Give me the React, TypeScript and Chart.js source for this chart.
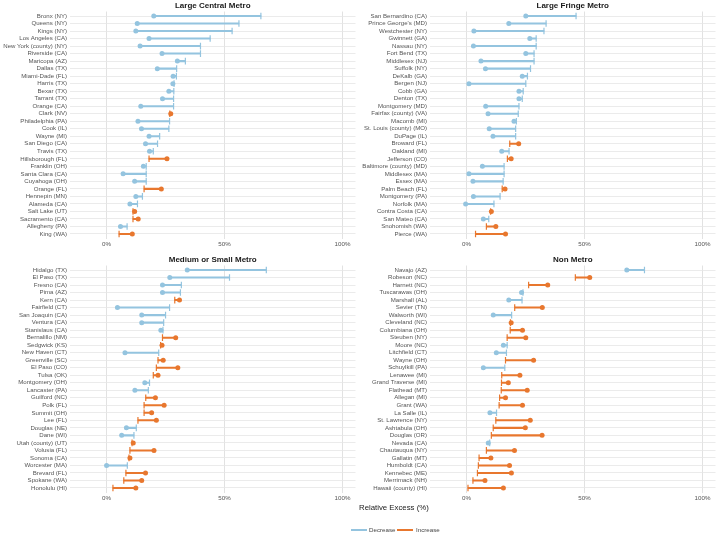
import React, { useEffect, useRef } from 'react';
import { Chart, registerables } from 'chart.js';

Chart.register(...registerables);

const FONT = '"Liberation Sans", Arial, Helvetica, sans-serif';
const BLUE = '#94c4df';
const ORANGE = '#e8772e';

const X_TICKS = [0, 50, 100];
const X_MIN = -15.5;
const X_MAX = 105.5;

const largeCentralCounties = [
  'Bronx (NY)', 'Queens (NY)', 'Kings (NY)', 'Los Angeles (CA)', 'New York (county) (NY)', 'Riverside (CA)',
  'Maricopa (AZ)', 'Dallas (TX)', 'Miami-Dade (FL)', 'Harris (TX)', 'Bexar (TX)', 'Tarrant (TX)',
  'Orange (CA)', 'Clark (NV)', 'Philadelphia (PA)', 'Cook (IL)', 'Wayne (MI)', 'San Diego (CA)',
  'Travis (TX)', 'Hillsborough (FL)', 'Franklin (OH)', 'Santa Clara (CA)', 'Cuyahoga (OH)', 'Orange (FL)',
  'Hennepin (MN)', 'Alameda (CA)', 'Salt Lake (UT)', 'Sacramento (CA)', 'Allegheny (PA)', 'King (WA)',
];
const largeCentralStart = [65.4, 56.1, 53.2, 43.9, 39.8, 39.8, 33.4, 29.7, 29.6, 28.6, 28.5, 28.4, 28.4, 26.8, 26.7, 26.4, 22.5, 21.6, 19.8, 18.0, 16.8, 16.8, 16.8, 15.9, 15.2, 13.1, 11.2, 11.2, 8.7, 5.3];
const largeCentralEnd = [20.0, 13.0, 12.4, 18.0, 14.2, 23.5, 30.0, 21.5, 28.2, 28.1, 26.4, 23.7, 14.5, 27.2, 13.3, 14.8, 18.0, 16.5, 18.2, 25.6, 15.6, 7.0, 11.9, 23.2, 12.4, 9.9, 11.9, 13.4, 5.9, 10.9];

const largeFringeCounties = [
  'San Bernardino (CA)', "Prince George's (MD)", 'Westchester (NY)', 'Gwinnett (GA)', 'Nassau (NY)', 'Fort Bend (TX)',
  'Middlesex (NJ)', 'Suffolk (NY)', 'DeKalb (GA)', 'Bergen (NJ)', 'Cobb (GA)', 'Denton (TX)',
  'Montgomery (MD)', 'Fairfax (county) (VA)', 'Macomb (MI)', 'St. Louis (county) (MO)', 'DuPage (IL)', 'Broward (FL)',
  'Oakland (MI)', 'Jefferson (CO)', 'Baltimore (county) (MD)', 'Middlesex (MA)', 'Essex (MA)', 'Palm Beach (FL)',
  'Montgomery (PA)', 'Norfolk (MA)', 'Contra Costa (CA)', 'San Mateo (CA)', 'Snohomish (WA)', 'Pierce (WA)',
];
const largeFringeStart = [46.4, 33.7, 32.8, 29.5, 29.5, 28.6, 28.6, 27.1, 25.8, 25.1, 24.0, 23.6, 22.2, 21.9, 21.1, 20.8, 20.8, 18.3, 18.0, 17.3, 15.9, 15.9, 15.5, 15.1, 14.2, 11.6, 10.2, 9.4, 8.4, 3.8];
const largeFringeEnd = [25.1, 17.9, 3.1, 26.8, 2.9, 25.1, 6.1, 8.0, 23.6, 1.0, 22.2, 22.2, 8.1, 9.1, 20.1, 9.6, 11.2, 22.1, 14.9, 18.9, 6.7, 1.0, 2.7, 16.3, 2.9, -0.4, 10.5, 7.1, 12.4, 16.5];

const mediumSmallCounties = [
  'Hidalgo (TX)', 'El Paso (TX)', 'Fresno (CA)', 'Pima (AZ)', 'Kern (CA)', 'Fairfield (CT)',
  'San Joaquin (CA)', 'Ventura (CA)', 'Stanislaus (CA)', 'Bernalillo (NM)', 'Sedgwick (KS)', 'New Haven (CT)',
  'Greenville (SC)', 'El Paso (CO)', 'Tulsa (OK)', 'Montgomery (OH)', 'Lancaster (PA)', 'Guilford (NC)',
  'Polk (FL)', 'Summit (OH)', 'Lee (FL)', 'Douglas (NE)', 'Dane (WI)', 'Utah (county) (UT)',
  'Volusia (FL)', 'Sonoma (CA)', 'Worcester (MA)', 'Brevard (FL)', 'Spokane (WA)', 'Honolulu (HI)',
];
const mediumSmallStart = [67.7, 52.1, 31.7, 31.3, 28.9, 26.7, 25.0, 24.2, 23.9, 23.7, 22.9, 22.1, 21.8, 21.1, 19.8, 18.2, 17.7, 16.6, 15.9, 15.9, 13.3, 12.6, 11.6, 10.8, 9.9, 9.5, 8.8, 8.2, 7.3, 2.7];
const mediumSmallEnd = [34.2, 26.8, 23.7, 23.7, 30.9, 4.6, 14.9, 14.9, 23.0, 29.3, 23.5, 7.8, 24.0, 30.2, 21.8, 16.2, 12.0, 20.7, 24.4, 19.1, 21.1, 8.4, 6.4, 11.3, 20.1, 9.9, 0.0, 16.5, 14.9, 12.4];

const nonMetroCounties = [
  'Navajo (AZ)', 'Robeson (NC)', 'Harnett (NC)', 'Tuscarawas (OH)', 'Marshall (AL)', 'Sevier (TN)',
  'Walworth (WI)', 'Cleveland (NC)', 'Columbiana (OH)', 'Steuben (NY)', 'Moore (NC)', 'Litchfield (CT)',
  'Wayne (OH)', 'Schuylkill (PA)', 'Lenawee (MI)', 'Grand Traverse (MI)', 'Flathead (MT)', 'Allegan (MI)',
  'Grant (WA)', 'La Salle (IL)', 'St. Lawrence (NY)', 'Ashtabula (OH)', 'Douglas (OR)', 'Nevada (CA)',
  'Chautauqua (NY)', 'Gallatin (MT)', 'Humboldt (CA)', 'Kennebec (ME)', 'Merrimack (NH)', 'Hawaii (county) (HI)',
];
const nonMetroStart = [75.4, 46.1, 26.3, 23.9, 23.5, 20.4, 19.1, 18.6, 18.5, 17.2, 17.2, 16.9, 16.5, 16.2, 14.9, 14.8, 14.7, 14.0, 13.8, 12.7, 12.4, 11.3, 10.5, 9.8, 8.4, 5.3, 5.0, 4.6, 2.7, 0.6];
const nonMetroEnd = [67.9, 52.2, 34.4, 23.3, 17.9, 32.1, 11.3, 18.9, 23.7, 25.1, 15.6, 12.6, 28.4, 7.1, 22.6, 17.7, 25.7, 16.5, 23.7, 9.9, 27.0, 24.9, 32.0, 9.2, 20.3, 10.3, 18.2, 19.0, 7.8, 15.6];

type PanelProps = {
  title: string;
  counties: string[];
  start: number[];
  end: number[];
  left: number;
  top: number;
};

function Panel({ title, counties, start, end, left, top }: PanelProps) {
  const ref = useRef<HTMLCanvasElement>(null);

  useEffect(() => {
    if (!ref.current) return;
    const colors = counties.map((_, i) => (end[i] >= start[i] ? ORANGE : BLUE));
    const chart = new Chart(ref.current, {
      type: 'scatter',
      data: {
        datasets: [
          {
            type: 'scatter',
            data: counties.map((_, i) => ({ x: end[i], y: i })),
            pointStyle: 'circle',
            pointRadius: 2.5,
            pointHoverRadius: 2.5,
            pointBackgroundColor: colors,
            pointBorderWidth: 0,
          } as any,
          {
            type: 'scatter',
            data: counties.map((_, i) => ({ x: start[i], y: i })),
            pointStyle: 'line',
            pointRotation: 90,
            pointRadius: 3.3,
            pointHoverRadius: 3.3,
            pointBorderColor: colors,
            pointBorderWidth: 1.2,
          } as any,
          {
            type: 'bar',
            indexAxis: 'y',
            data: counties.map((_, i) => ({ x: [start[i], end[i]], y: i })),
            backgroundColor: colors,
            borderWidth: 0,
            barThickness: 1.4,
          } as any,
        ],
      },
      options: {
        animation: false,
        responsive: false,
        events: [],
        layout: { padding: { top: 0, right: 1, bottom: 0, left: 0 } },
        plugins: {
          legend: { display: false },
          tooltip: { enabled: false },
          title: {
            display: true,
            text: title,
            fullSize: false,
            color: '#1a1a1a',
            font: { family: FONT, size: 8, weight: 'bold' },
            padding: { top: 0.6, bottom: 1.3 },
          },
        },
        scales: {
          x: {
            type: 'linear',
            min: X_MIN,
            max: X_MAX,
            afterBuildTicks: (s: any) => {
              s.ticks = X_TICKS.map((v) => ({ value: v }));
            },
            afterFit: (s: any) => {
              s.height = 13.5;
            },
            ticks: {
              callback: (v: any) => `${v}%`,
              color: '#555555',
              font: { family: FONT, size: 6.2 },
              padding: 2.5,
              maxRotation: 0,
            },
            grid: { color: '#dadada', lineWidth: 0.8, drawTicks: false },
            border: { display: false },
          },
          y: {
            type: 'linear',
            reverse: true,
            min: -0.6,
            max: counties.length - 0.4,
            offset: false,
            afterBuildTicks: (s: any) => {
              s.ticks = counties.map((_, i) => ({ value: i }));
            },
            afterFit: (s: any) => {
              s.width = 70;
            },
            ticks: {
              autoSkip: false,
              callback: (_v: any, i: number) => counties[i],
              color: '#555555',
              font: { family: FONT, size: 6.1 },
              padding: 3,
            },
            grid: { color: '#e6e6e6', lineWidth: 0.8, drawTicks: false, offset: false },
            border: { display: false },
          },
        },
      } as any,
    });
    return () => chart.destroy();
  }, []);

  return (
    <canvas
      ref={ref}
      width={360}
      height={252}
      style={{ position: 'absolute', left, top, width: 360, height: 252, display: 'block' }}
    />
  );
}

export default function App() {
  const textBase: React.CSSProperties = {
    position: 'absolute',
    fontFamily: FONT,
    lineHeight: 1,
    whiteSpace: 'nowrap',
  };
  return (
    <div
      style={{
        position: 'absolute',
        left: 0,
        top: 0,
        width: 720,
        height: 534,
        background: '#ffffff',
        overflow: 'hidden',
      }}
    >
      <Panel title="Large Central Metro" counties={largeCentralCounties} start={largeCentralStart} end={largeCentralEnd} left={0} top={0} />
      <Panel title="Large Fringe Metro" counties={largeFringeCounties} start={largeFringeStart} end={largeFringeEnd} left={360} top={0} />
      <Panel title="Medium or Small Metro" counties={mediumSmallCounties} start={mediumSmallStart} end={mediumSmallEnd} left={0} top={254} />
      <Panel title="Non Metro" counties={nonMetroCounties} start={nonMetroStart} end={nonMetroEnd} left={360} top={254} />

      <div style={{ ...textBase, left: 359, top: 503.5, fontSize: 7.8, color: '#1a1a1a' }}>Relative Excess (%)</div>

      <div style={{ position: 'absolute', left: 351, top: 529.4, width: 16, height: 1.3, background: BLUE }} />
      <div style={{ ...textBase, left: 369, top: 527, fontSize: 6.2, color: '#444444' }}>Decrease</div>
      <div style={{ position: 'absolute', left: 397, top: 529.4, width: 16, height: 1.3, background: ORANGE }} />
      <div style={{ ...textBase, left: 416, top: 527, fontSize: 6.2, color: '#444444' }}>Increase</div>
    </div>
  );
}
